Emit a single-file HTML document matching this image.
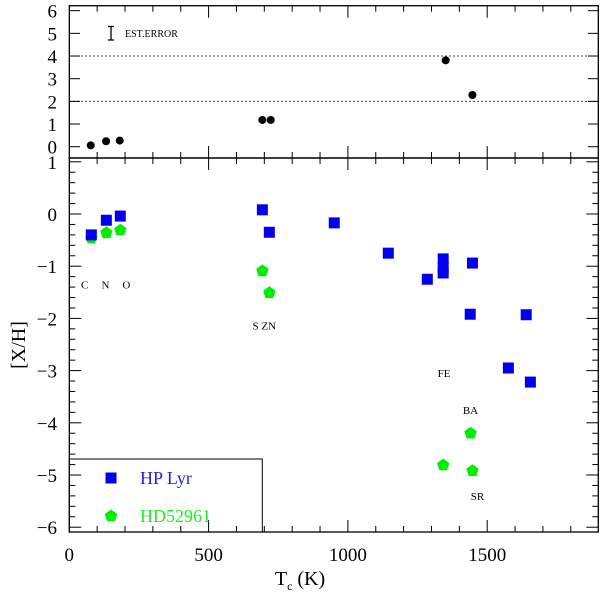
<!DOCTYPE html>
<html><head><meta charset="utf-8"><style>
html,body{margin:0;padding:0;background:#fff}
svg{display:block;font-family:"Liberation Serif",serif}
</style></head><body>
<svg id="c" width="600" height="593" viewBox="0 0 600 593"></svg>
<script>
const topT=[77,132,181,693,723,1351,1447];
const topV=[0.06,0.24,0.27,1.18,1.18,3.81,2.28];
const hpT=[79,133,183,693,718,951,1145,1285,1342,1342,1342,1447,1439,1576,1640,1655];
const hpV=[-0.40,-0.12,-0.04,0.08,-0.35,-0.17,-0.75,-1.25,-0.86,-1.03,-1.13,-0.94,-1.92,-2.95,-1.93,-3.22];
const hdT=[79,133,183,693,718,1342,1440,1447];
const hdV=[-0.46,-0.36,-0.31,-1.09,-1.51,-4.81,-4.20,-4.92];
const xTicks=[0,500,1000,1500];
const topYTicks=[0,1,2,3,4,5,6];
const botYTicks=[1,0,-1,-2,-3,-4,-5,-6];
const elemLabels=[["C",55,-1.35],["N",130,-1.35],["O",205,-1.35],["S ZN",700,-2.14],["FE",1345,-3.05],["BA",1440,-3.75],["SR",1465,-5.4]];

const NS="http://www.w3.org/2000/svg",svg=document.getElementById('c');
const X=t=>69.3+t*0.2786;
const Yt=v=>146.7-v*22.67;
const Yb=v=>214-v*52.2;
function el(tag,a,p){const e=document.createElementNS(NS,tag);for(const k in a)e.setAttribute(k,a[k]);(p||svg).appendChild(e);return e;}
function txt(s,x,y,a,name){const e=el('text',Object.assign({x:x,y:y},a));e.textContent=s;return e;}

// frames
const f1=el('rect',{x:69.3,y:5.7,width:529,height:152.3,fill:'none',stroke:'#000','stroke-width':1.3});

const f2=el('rect',{x:69.3,y:158,width:529,height:374,fill:'none',stroke:'#000','stroke-width':1.3});


// x ticks
for(let t=100;t<1900;t+=100){const maj=t%500===0;const L=maj?12:6;const x=X(t);
 el('line',{x1:x,y1:158,x2:x,y2:158-L,stroke:'#000'});el('line',{x1:x,y1:5.7,x2:x,y2:5.7+L,stroke:'#000'});
 el('line',{x1:x,y1:532,x2:x,y2:532-L,stroke:'#000'});el('line',{x1:x,y1:158,x2:x,y2:158+L,stroke:'#000'});}
xTicks.forEach(t=>txt(String(t),X(t),561,{'text-anchor':'middle','font-size':19},'x-tick-label'));
// top y ticks
topYTicks.forEach(v=>{const y=Yt(v);el('line',{x1:69.3,y1:y,x2:80,y2:y,stroke:'#000'});el('line',{x1:598.3,y1:y,x2:588,y2:y,stroke:'#000'});
 txt(String(v),57,y+7,{'text-anchor':'end','font-size':19},'top-y-tick-label');});
// bottom y ticks
for(let i=-30;i<=5;i++){const v=i/5;const y=Yb(v);if(y<158||y>532)continue;const maj=i%5===0;const L=maj?12:6;
 el('line',{x1:69.3,y1:y,x2:69.3+L,y2:y,stroke:'#000'});el('line',{x1:598.3,y1:y,x2:598.3-L,y2:y,stroke:'#000'});}
botYTicks.forEach(v=>txt(v<0?'\u2212'+(-v):String(v),57,Yb(v)+7,{'text-anchor':'end','font-size':19},'bottom-y-tick-label'));
// dotted lines
[2,4].forEach(v=>{const l=el('line',{x1:69.3,y1:Yt(v),x2:598.3,y2:Yt(v),stroke:'#000','stroke-dasharray':'1.5,2.5','stroke-width':1});
 });
// est error
const eb=el('path',{d:'M108,26.5H114M111,26.5V40M108,40H114',stroke:'#000',fill:'none','stroke-width':1.3});

txt('EST.ERROR',125,37,{'font-size':10},'est-error-label');
// top points
topT.forEach((t,i)=>{const c=el('circle',{cx:X(t),cy:Yt(topV[i]),r:4,fill:'#000'});
 });
// pentagon
function pent(cx,cy,r,name){let p=[];for(let k=0;k<5;k++){const a=-Math.PI/2+k*2*Math.PI/5;p.push((cx+r*Math.cos(a)).toFixed(1)+','+(cy+r*Math.sin(a)).toFixed(1));}
 const e=el('polygon',{points:p.join(' '),fill:'#00ee00'});}
hdT.forEach((t,i)=>pent(X(t),Yb(hdV[i]),6.5,'hd52961-point'));
hpT.forEach((t,i)=>{const r=el('rect',{x:X(t)-5.5,y:Yb(hpV[i])-5.5,width:11,height:11,fill:'#0000ee'});
 });
elemLabels.forEach(e=>txt(e[0],X(e[1]),Yb(e[2])+4,{'text-anchor':'middle','font-size':11},'element-label'));
// legend
const lb=el('rect',{x:69.3,y:459,width:193,height:73,fill:'none',stroke:'#000','stroke-width':1});

const ls=el('rect',{x:105.5,y:472.5,width:11,height:11,fill:'#0000ee'});
txt('HP Lyr',140,484,{'font-size':18,fill:'#2222dd'},'legend-hp-lyr-label');
pent(111,516,6.5,'legend-hd52961-marker');
txt('HD52961',140,522,{'font-size':18,fill:'#22ee22'},'legend-hd52961-label');
// axis titles
const yt=txt('[X/H]',0,0,{'font-size':20,'text-anchor':'middle',transform:'translate(25,345) rotate(-90)'},'y-axis-title');
const xt=el('text',{x:300,y:585,'font-size':20,'text-anchor':'middle'});
xt.innerHTML='T<tspan font-size="12" dy="5">c</tspan><tspan dy="-5"> (K)</tspan>';
</script>
</body></html>
